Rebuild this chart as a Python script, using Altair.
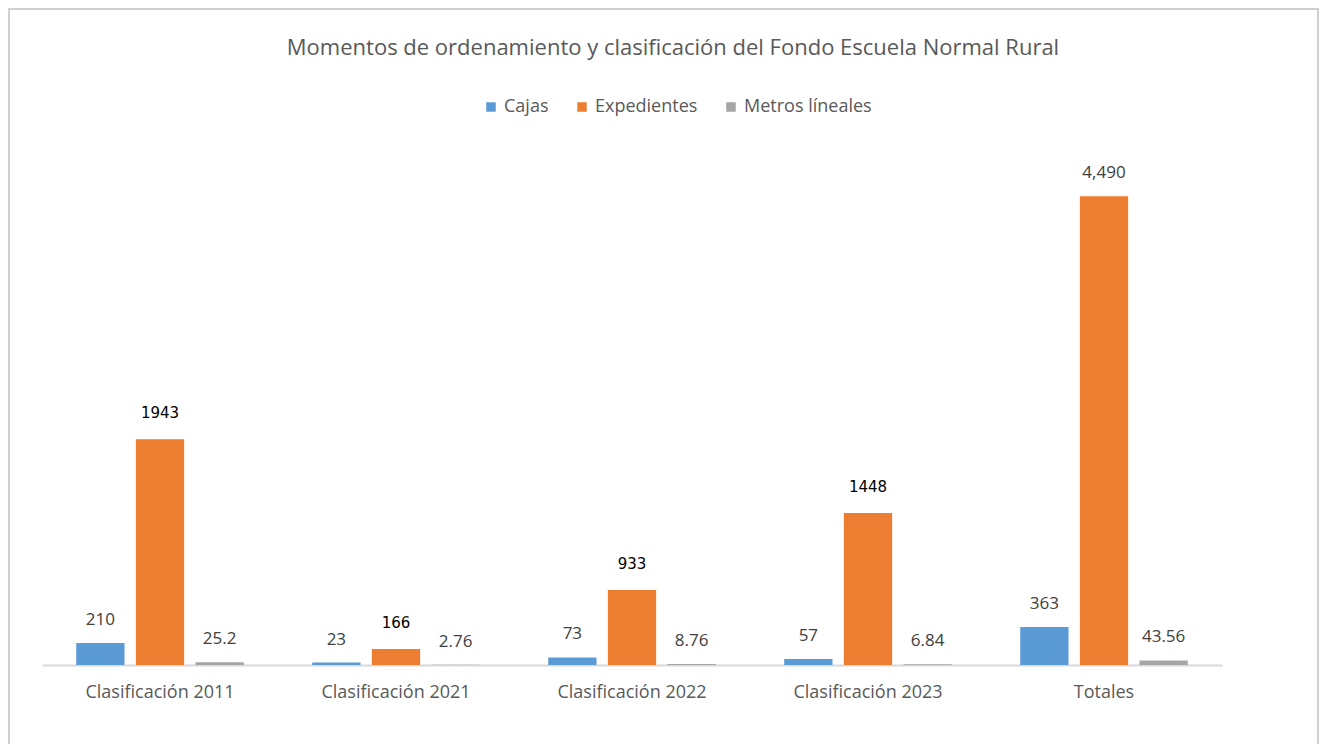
import altair as alt
import pandas as pd

categories = ["Clasificación 2011", "Clasificación 2021", "Clasificación 2022", "Clasificación 2023", "Totales"]
series = ["Cajas", "Expedientes", "Metros líneales"]

cajas = [210, 23, 73, 57, 363]
cajas_labels = ["210", "23", "73", "57", "363"]

# bar heights as drawn in the picture
expedientes = [2163, 153, 718, 1455, 4490]
expedientes_labels = ["1943", "166", "933", "1448", "4,490"]
expedientes_label_edited = [True, True, True, True, False]

metros = [25.2, 2.76, 8.76, 6.84, 43.56]
metros_labels = ["25.2", "2.76", "8.76", "6.84", "43.56"]

colors = ["#5B9BD5", "#ED7D31", "#A5A5A5"]

rows = []
for i, c in enumerate(categories):
    rows.append(dict(cat=c, serie=series[0], value=cajas[i], label=cajas_labels[i], edited=False))
    rows.append(dict(cat=c, serie=series[1], value=expedientes[i], label=expedientes_labels[i], edited=expedientes_label_edited[i]))
    rows.append(dict(cat=c, serie=series[2], value=metros[i], label=metros_labels[i], edited=False))
df = pd.DataFrame(rows)

FONT = "Open Sans"
W, H = 1180, 522

x = alt.X("cat:N", sort=categories, title=None,
          scale=alt.Scale(paddingInner=0.29, paddingOuter=0.145),
          axis=alt.Axis(labelAngle=0, labelFont=FONT, labelFontSize=18, labelColor="#595959",
                        labelPadding=18, ticks=False, domainColor="#D9D9D9", domainWidth=2,
                        grid=False))
xo = alt.XOffset("serie:N", sort=series, scale=alt.Scale(paddingInner=0.19, paddingOuter=0))
y = alt.Y("value:Q", scale=alt.Scale(domain=[0, 5000]), axis=None)

bars = alt.Chart(df).mark_bar().encode(
    x=x, xOffset=xo, y=y,
    color=alt.Color("serie:N", sort=series,
                    scale=alt.Scale(domain=series, range=colors),
                    legend=alt.Legend(title=None, orient="none", direction="horizontal",
                                      legendX=440, legendY=-45, symbolType="square",
                                      symbolSize=90, symbolStrokeWidth=0,
                                      labelFont=FONT, labelFontSize=18, labelColor="#595959",
                                      columnPadding=24, labelOffset=4)),
)

labels_gray = alt.Chart(df).transform_filter("!datum.edited").mark_text(
    font=FONT, fontSize=17, color="#404040", baseline="middle", dy=-23
).encode(x=x, xOffset=xo, y=y, text="label:N")

labels_black = alt.Chart(df).transform_filter("datum.edited").mark_text(
    font="DejaVu Sans", fontSize=15, color="#000000", baseline="middle", dy=-26
).encode(x=x, xOffset=xo, y=y, text="label:N")

frame = alt.Chart(df).mark_rect(fill=None, stroke="#D0D0D0", strokeWidth=2).encode(
    x=alt.value(-33), x2=alt.value(1276), y=alt.value(-134), y2=alt.value(620)
).transform_filter("datum.cat == 'Totales' && datum.serie == 'Cajas'")

chart = alt.layer(frame, bars, labels_gray, labels_black).properties(
    width=W, height=H,
    autosize="none",
    padding={"left": 34, "top": 135, "right": 98, "bottom": 79},
    title=alt.Title("Momentos de ordenamiento y clasificación del Fondo Escuela Normal Rural",
                    font=FONT, fontSize=22, fontWeight="normal", color="#595959",
                    anchor="middle", frame="group", dx=41, offset=-52),
    background="white",
).configure_view(stroke=None)

chart.save("out.html", embed_options={"renderer": "svg", "actions": False})
